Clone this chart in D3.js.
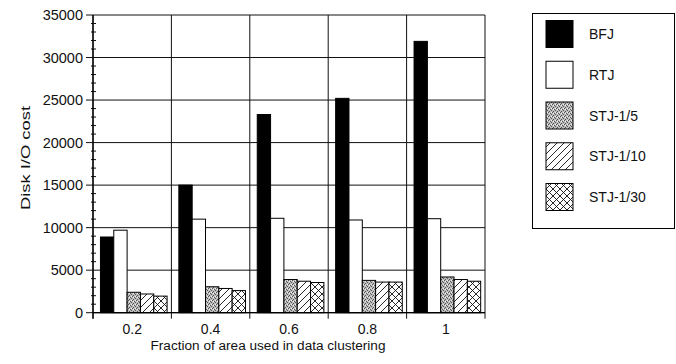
<!DOCTYPE html>
<html><head><meta charset="utf-8">
<script src="https://cdn.jsdelivr.net/npm/d3@7"></script>
<style>body{margin:0;background:#fff}svg{display:block}text{font-family:"Liberation Sans",Arial,Helvetica,sans-serif;fill:#111}</style>
</head><body><svg id="c" width="676" height="364"></svg>
<script>
const categories = ["0.2","0.4","0.6","0.8","1"];
const seriesNames = ["BFJ","RTJ","STJ-1/5","STJ-1/10","STJ-1/30"];
const BFJ = [8900,15000,23300,25200,31900];
const RTJ = [9700,11000,11100,10900,11050];
const STJ5 = [2400,3050,3900,3800,4200];
const STJ10 = [2200,2850,3700,3600,3900];
const STJ30 = [1950,2600,3550,3600,3700];
const yTicks = [0,5000,10000,15000,20000,25000,30000,35000];
const seriesValues = [BFJ,RTJ,STJ5,STJ10,STJ30];

const svg = d3.select("#c");
const L=93,R=485,T=15,B=312.7;
const x = d3.scaleBand().domain(categories).range([L,R]).padding(0);
const y = d3.scaleLinear().domain([0,35000]).range([B,T]);
const step = x.bandwidth();
const inner = d3.scaleBand().domain(seriesNames).range([step*0.095, step*0.945]).padding(0);

const defs = svg.append("defs");
// stipple
const p1 = defs.append("pattern").attr("id","stip").attr("width",4).attr("height",4).attr("patternUnits","userSpaceOnUse");
p1.append("rect").attr("width",4).attr("height",4).attr("fill","#bdbdbd");
[[0,0],[2,1],[1,3],[3,2]].forEach(d=>p1.append("rect").attr("x",d[0]).attr("y",d[1]).attr("width",1).attr("height",1).attr("fill","#555"));
p1.append("rect").attr("x",1).attr("y",1).attr("width",1).attr("height",1).attr("fill","#eee");
p1.append("rect").attr("x",3).attr("y",0).attr("width",1).attr("height",1).attr("fill","#eee");
// diagonal
const p2 = defs.append("pattern").attr("id","diag").attr("width",7).attr("height",7).attr("patternUnits","userSpaceOnUse");
p2.append("rect").attr("width",7).attr("height",7).attr("fill","#fff");
p2.append("path").attr("d","M-1,8 L8,-1 M-1,1 L1,-1 M6,8 L8,6").attr("stroke","#111").attr("stroke-width",0.9);
// crosshatch
const p3 = defs.append("pattern").attr("id","cross").attr("width",7).attr("height",7).attr("patternUnits","userSpaceOnUse");
p3.append("rect").attr("width",7).attr("height",7).attr("fill","#fff");
p3.append("path").attr("d","M-1,8 L8,-1 M-1,1 L1,-1 M6,8 L8,6 M-1,-1 L8,8 M6,-1 L8,1 M-1,6 L1,8").attr("stroke","#111").attr("stroke-width",0.9);

const fills = {"BFJ":"#000","RTJ":"#fff","STJ-1/5":"url(#stip)","STJ-1/10":"url(#diag)","STJ-1/30":"url(#cross)"};

// gridlines
svg.append("g").selectAll("line").data(yTicks).join("line")
  .attr("x1",L-7).attr("x2",R).attr("y1",d=>y(d)).attr("y2",d=>y(d))
  .attr("stroke","#111").attr("stroke-width",1);
const bounds = categories.map(c=>x(c)).concat([R]);
svg.append("g").selectAll("line").data(bounds).join("line")
  .attr("x1",d=>d).attr("x2",d=>d).attr("y1",T).attr("y2",B+6)
  .attr("stroke","#111").attr("stroke-width",1);
// minor ticks
const minor = d3.range(0,35001,1000).filter(v=>v%5000!==0);
svg.append("g").selectAll("line").data(minor).join("line")
  .attr("x1",L-2).attr("x2",L+3).attr("y1",d=>y(d)).attr("y2",d=>y(d))
  .attr("stroke","#111").attr("stroke-width",1);

// bars
const rows = [];
categories.forEach((c,i)=>seriesNames.forEach((s,j)=>rows.push({c,s,v:seriesValues[j][i]})));
svg.append("g").selectAll("rect").data(rows).join("rect")
  .attr("x",d=>x(d.c)+inner(d.s)).attr("width",inner.bandwidth())
  .attr("y",d=>y(d.v)).attr("height",d=>B-y(d.v))
  .attr("fill",d=>fills[d.s]).attr("stroke","#000").attr("stroke-width",1);

// axes lines
svg.append("line").attr("x1",L).attr("x2",R).attr("y1",B).attr("y2",B).attr("stroke","#000").attr("stroke-width",1.3);
svg.append("line").attr("x1",L).attr("x2",L).attr("y1",T).attr("y2",B+6).attr("stroke","#000").attr("stroke-width",1.3);

// tick labels
svg.append("g").selectAll("text").data(yTicks).join("text")
  .attr("x",L-10).attr("y",d=>y(d)+5).attr("text-anchor","end")
  .style("font-size","14.5px").text(d=>d);
svg.append("g").selectAll("text").data(categories).join("text")
  .attr("x",d=>x(d)+step/2).attr("y",B+21.5).attr("text-anchor","middle")
  .style("font-size","14px").text(d=>d);

svg.append("text").attr("x",150.5).attr("y",350).attr("textLength",235).attr("lengthAdjust","spacingAndGlyphs")
  .style("font-size","12.5px").text("Fraction of area used in data clustering");
svg.append("text").attr("transform","translate(30,210) rotate(-90)").attr("textLength",104).attr("lengthAdjust","spacingAndGlyphs")
  .style("font-size","13.5px").text("Disk I/O cost");

// legend
const lg = svg.append("g");
lg.append("rect").attr("x",532.5).attr("y",13.5).attr("width",142).attr("height",215)
  .attr("fill","#fff").attr("stroke","#000").attr("stroke-width",1);
const ly = d3.scalePoint().domain(seriesNames).range([34,197]);
lg.selectAll("rect.sw").data(seriesNames).join("rect").attr("class","sw")
  .attr("x",546).attr("y",d=>ly(d)-13.5).attr("width",27).attr("height",27)
  .attr("fill",d=>fills[d]).attr("stroke","#000").attr("stroke-width",1);
lg.selectAll("text").data(seriesNames).join("text")
  .attr("x",589).attr("y",d=>ly(d)+5).style("font-size","14px").text(d=>d);
</script></body></html>
